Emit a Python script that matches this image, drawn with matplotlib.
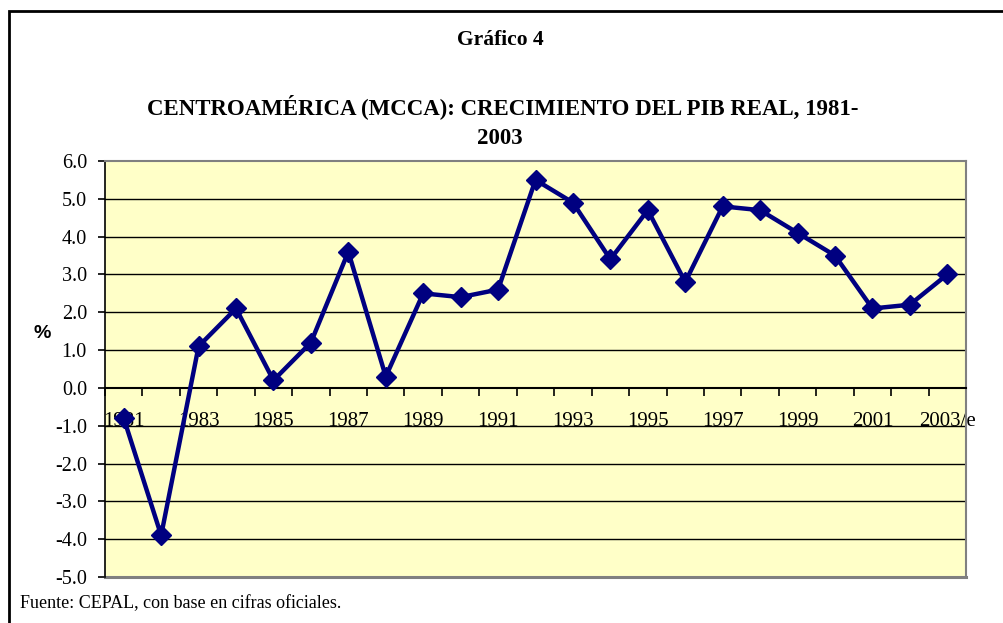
import numpy as np
import matplotlib.pyplot as plt
from matplotlib.patches import Rectangle

#%% Data %%#
years = ['1981', '1982', '1983', '1984', '1985', '1986', '1987', '1988', '1989', '1990',
         '1991', '1992', '1993', '1994', '1995', '1996', '1997', '1998', '1999', '2000',
         '2001', '2002', '2003/e']
growth = [-0.8, -3.9, 1.1, 2.1, 0.2, 1.2, 3.6, 0.3, 2.5, 2.4,
          2.6, 5.5, 4.9, 3.4, 4.7, 2.8, 4.8, 4.7, 4.1, 3.5,
          2.1, 2.2, 3.0]
y_ticks = [-5, -4, -3, -2, -1, 0, 1, 2, 3, 4, 5, 6]

serif = 'Liberation Serif'
W, H = 1004, 623

fig = plt.figure(figsize=(W / 100, H / 100), dpi=100)
ax = fig.add_axes([105 / W, 1 - 577 / H, (966 - 105) / W, (577 - 161) / H])
ax.set_facecolor('#FFFFC8')

x = np.arange(len(years))
ax.set_xlim(-0.5, len(years) - 0.5)
ax.set_ylim(-5, 6)

for v in y_ticks:
    if v not in (-5, 0, 6):
        ax.axhline(v, color='black', lw=1, zorder=1)

ax.plot(x, growth, color='#000080', lw=3.2, marker='D', markersize=10, zorder=3, clip_on=False)

# axes frame
for s in ['top', 'right']:
    ax.spines[s].set_color('#808080')
    ax.spines[s].set_linewidth(1.5)
ax.spines['left'].set_color('black')
ax.spines['left'].set_linewidth(1.2)
ax.spines['bottom'].set_position(('data', 0))
ax.spines['bottom'].set_color('black')
ax.spines['bottom'].set_linewidth(1.5)
ax.axhline(-5, color='#808080', lw=2.2, clip_on=False, zorder=2)

# x ticks between categories, labels every other year
ax.set_xticks(np.arange(-0.5, len(years), 1.0))
ax.set_xticklabels([])
ax.tick_params(axis='x', which='major', direction='out', length=6, width=1.2, color='black')
ax.set_xticks(x[::2], minor=True)
ax.set_xticklabels(years[::2], minor=True, fontfamily=serif, fontsize=15)
ax.tick_params(axis='x', which='minor', length=0, pad=17)

ax.set_yticks(y_ticks)
ax.set_yticklabels(['%.1f' % v for v in y_ticks], fontfamily=serif, fontsize=14.5)
ax.tick_params(axis='y', direction='out', length=5, width=1.2, color='black', pad=8)

# texts
fig.text(500 / W, 1 - 40 / H, 'Gráfico 4', ha='center', va='center',
         fontfamily=serif, fontweight='bold', fontsize=15.5)
fig.text(503 / W, 1 - 107 / H, 'CENTROAMÉRICA (MCCA): CRECIMIENTO DEL PIB REAL, 1981-',
         ha='center', va='center', fontfamily=serif, fontweight='bold', fontsize=16.5)
fig.text(500 / W, 1 - 138 / H, '2003', ha='center', va='center',
         fontfamily=serif, fontweight='bold', fontsize=16.5)
fig.text(42 / W, 1 - 333 / H, '%', ha='center', va='center',
         fontfamily='Liberation Sans', fontweight='bold', fontsize=14)
fig.text(20 / W, 1 - 604 / H, 'Fuente: CEPAL, con base en cifras oficiales.', ha='left', va='center',
         fontfamily=serif, fontsize=13)

# outer frame
fig.add_artist(Rectangle((9 / W, -0.1), 1.1, 1 - 11 / H + 0.1, transform=fig.transFigure,
                         fill=False, lw=2, edgecolor='black'))

fig.savefig('out.png', dpi=100)
